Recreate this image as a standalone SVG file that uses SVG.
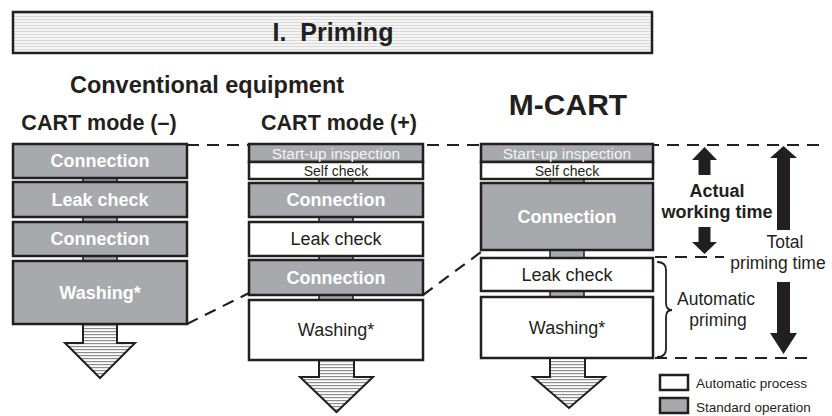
<svg xmlns="http://www.w3.org/2000/svg" width="832" height="416" viewBox="0 0 832 416">
<defs>
<pattern id="titleStripe" width="8" height="3" patternUnits="userSpaceOnUse">
<rect width="8" height="3" fill="#f4f4f4"/>
<rect y="1" width="8" height="1" fill="#d9d9d9"/>
</pattern>
<pattern id="arrowStripe" width="8" height="3" patternUnits="userSpaceOnUse">
<rect width="8" height="3" fill="#ffffff"/>
<rect y="1" width="8" height="1.2" fill="#8c8c8c"/>
</pattern>
<style>
.box{stroke:#231f20;stroke-width:2.5}
.g{fill:#a7a9ac}
.w{fill:#ffffff}
.bar{fill:#a7a9ac;stroke:#231f20;stroke-width:1.5}
.arr{fill:url(#arrowStripe);stroke:#231f20;stroke-width:2;stroke-linejoin:miter}
.dash{fill:none;stroke:#231f20;stroke-width:2.2;stroke-dasharray:12 8}
.blk{fill:#231f20}
text{font-family:"Liberation Sans",Arial,sans-serif;fill:#231f20;text-anchor:middle}
.bw{font-weight:bold;fill:#ffffff;font-size:18px}
.n18{font-size:18px}
.n17{font-size:17.5px}
.hd{font-weight:bold}
</style>
</defs>

<g id="title">
<rect x="13" y="12" width="639" height="41" fill="url(#titleStripe)" class="box"/>
<text x="333" y="41" font-size="25" class="hd" xml:space="preserve">I.  Priming</text>
</g>

<g id="headings">
<text x="207" y="93" font-size="23.5" class="hd">Conventional equipment</text>
<text x="99" y="130" font-size="21.5" class="hd">CART mode (–)</text>
<text x="339" y="130" font-size="21.5" class="hd">CART mode (+)</text>
<text x="568" y="115" font-size="30" class="hd">M-CART</text>
</g>

<g id="connectors">
<line x1="187" y1="145" x2="820" y2="145" class="dash"/>
<line x1="187" y1="324" x2="249" y2="293" class="dash"/>
<line x1="423" y1="295" x2="481" y2="252" class="dash"/>
<line x1="655" y1="257" x2="724" y2="257" class="dash"/>
<line x1="655" y1="358" x2="814" y2="358" class="dash"/>
</g>

<g id="col1">
<rect x="83" y="178" width="34" height="4" class="bar"/>
<rect x="83" y="217" width="34" height="5" class="bar"/>
<rect x="83" y="256" width="34" height="5" class="bar"/>
<rect x="13" y="144" width="174" height="34" class="box g"/>
<rect x="13" y="182" width="174" height="35" class="box g"/>
<rect x="13" y="222" width="174" height="34" class="box g"/>
<rect x="13" y="261" width="174" height="63" class="box g"/>
<text x="100" y="167" class="bw">Connection</text>
<text x="100" y="206" class="bw">Leak check</text>
<text x="100" y="245" class="bw">Connection</text>
<text x="100" y="299" class="bw">Washing*</text>
<path d="M83 324 V343 H65 L100 378 L135 343 H117 V324 Z" class="arr"/>
</g>

<g id="col2">
<rect x="319" y="179" width="34" height="4" class="bar"/>
<rect x="319" y="217" width="34" height="5" class="bar"/>
<rect x="319" y="256" width="34" height="4" class="bar"/>
<rect x="319" y="295" width="34" height="5" class="bar"/>
<rect x="249" y="144" width="174" height="18" class="box g"/>
<rect x="249" y="162" width="174" height="17" class="box w"/>
<rect x="249" y="183" width="174" height="34" class="box g"/>
<rect x="249" y="222" width="174" height="34" class="box w"/>
<rect x="249" y="260" width="174" height="35" class="box g"/>
<rect x="249" y="300" width="174" height="60" class="box w"/>
<text x="336" y="158.5" font-size="15.4" style="fill:#f2f2f2">Start-up inspection</text>
<text x="336" y="176" font-size="14">Self check</text>
<text x="336" y="206" class="bw">Connection</text>
<text x="336" y="245" class="n18">Leak check</text>
<text x="336" y="284" class="bw">Connection</text>
<text x="336" y="336" class="n18">Washing*</text>
<path d="M319 360 V377 H300 L336.5 412 L373 377 H354 V360 Z" class="arr"/>
</g>

<g id="col3">
<rect x="550" y="179" width="34" height="4" class="bar"/>
<rect x="550" y="250" width="34" height="8" class="bar"/>
<rect x="550" y="291" width="34" height="6" class="bar"/>
<rect x="481" y="144" width="172" height="18" class="box g"/>
<rect x="481" y="162" width="172" height="17" class="box w"/>
<rect x="481" y="183" width="172" height="67" class="box g"/>
<rect x="481" y="258" width="172" height="33" class="box w"/>
<rect x="481" y="297" width="172" height="61" class="box w"/>
<text x="567" y="158.5" font-size="15.4" style="fill:#f2f2f2">Start-up inspection</text>
<text x="567" y="176" font-size="14">Self check</text>
<text x="567" y="223" class="bw">Connection</text>
<text x="567" y="281" class="n18">Leak check</text>
<text x="567" y="334" class="n18">Washing*</text>
<path d="M550 358 V377 H533 L569 408 L605 377 H585 V358 Z" class="arr"/>
</g>

<g id="actual-working-time">
<path d="M692 160 L704.5 147 L717 160 H710.5 V175 H698.5 V160 Z" class="blk"/>
<path d="M698.5 227 H710.5 V242 H717 L704.5 254 L692 242 H698.5 Z" class="blk"/>
<text x="717" y="197" font-size="18" class="hd">Actual</text>
<text x="717" y="218" font-size="18" class="hd">working time</text>
</g>

<g id="total-priming-time">
<path d="M770 158 L783.5 146 L797 158 H790 V230 H777 V158 Z" class="blk"/>
<path d="M777 282 H790 V333 H797 L783.5 354 L770 333 H777 Z" class="blk"/>
<text x="785" y="248" class="n17">Total</text>
<text x="778" y="269" class="n17">priming time</text>
</g>

<g id="automatic-priming">
<path d="M657 262 Q666 262 666 270 V303 Q666 310 672 310 Q666 310 666 317 V349 Q666 357 657 357" fill="none" stroke="#231f20" stroke-width="1.8"/>
<text x="716" y="305" class="n17">Automatic</text>
<text x="718" y="326" class="n17">priming</text>
</g>

<g id="legend">
<rect x="660" y="375" width="28" height="15" class="box w"/>
<rect x="660" y="398" width="28" height="15" class="box g"/>
<text x="696" y="388" font-size="13.5" style="text-anchor:start">Automatic process</text>
<text x="696" y="412" font-size="13.5" style="text-anchor:start">Standard operation</text>
</g>
</svg>
